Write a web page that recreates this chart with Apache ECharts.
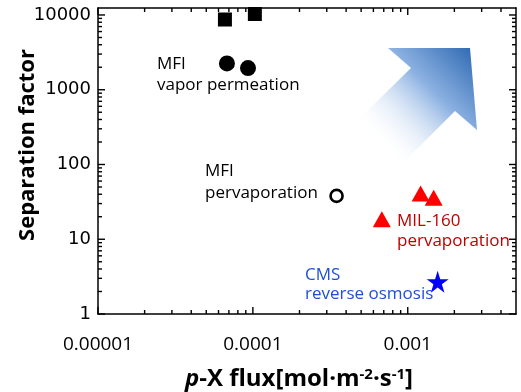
<!DOCTYPE html>
<html>
<head>
<meta charset="utf-8">
<script src="https://cdn.jsdelivr.net/npm/echarts@6/dist/echarts.min.js"></script>
<style>html,body{margin:0;padding:0;background:#fff}#c{width:521px;height:392px}</style>
</head>
<body>
<div id="c"></div>
<script>
// ---- data ----
const xTickLabels = ['0.00001', '0.0001', '0.001'];
const yTickLabels = ['1', '10', '100', '1000', '10000'];
const mfiVaporSquares = [[6.6e-5, 8700], [1.03e-4, 10300]];
const mfiVaporCircles = [[6.8e-5, 2250], [9.3e-5, 1950]];
const mfiPervap = [[3.47e-4, 38]];
const mil160Pervap = [[1.21e-3, 41], [1.47e-3, 36], [6.8e-4, 18.5]];
const cmsRO = [[1.56e-3, 2.7]];

const X_MIN = 1e-5, X_MAX = 5e-3, Y_MIN = 1, Y_MAX = 12400;

// tick positions: majors at powers of ten, minors at 2..9 of each decade
const xMajor = [], xMinor = [], yMajor = [], yMinor = [];
for (let e = -5; e <= -3; e++) for (let m = 1; m <= 9; m++) {
  const v = m * Math.pow(10, e);
  if (v < X_MAX) (m === 1 ? xMajor : xMinor).push(v);
}
for (let e = 0; e <= 4; e++) for (let m = 1; m <= 9; m++) {
  const v = m * Math.pow(10, e);
  if (v < Y_MAX) (m === 1 ? yMajor : yMinor).push(v);
}

const chart = echarts.init(document.getElementById('c'));

function fmt(list) {
  return function (v) {
    for (const s of list) if (Math.abs(Math.log10(v) - Math.log10(parseFloat(s))) < 1e-6) return s;
    return '';
  };
}
function axisLine() { return {show: true, lineStyle: {color: '#000', width: 1.5}}; }

const TW = 1.4;
function tickSeries(data, size, offset) {
  return {type: 'scatter', data: data, symbol: 'rect', symbolSize: size, symbolOffset: offset,
    clip: false, silent: true, z: 3, itemStyle: {color: '#000', opacity: 1},
    emphasis: {disabled: true}};
}

const option = {
  animation: false,
  grid: {left: 98, right: 5, top: 8, bottom: 78},
  xAxis: [
    {type: 'log', min: X_MIN, max: X_MAX, position: 'bottom',
      axisLine: axisLine(), axisTick: {show: false}, splitLine: {show: false},
      axisLabel: {formatter: fmt(xTickLabels), margin: 21, color: '#000',
        fontFamily: 'Open Sans', fontSize: 19}},
    {type: 'log', min: X_MIN, max: X_MAX, position: 'top',
      axisLine: axisLine(), axisTick: {show: false}, splitLine: {show: false}, axisLabel: {show: false}}
  ],
  yAxis: [
    {type: 'log', min: Y_MIN, max: Y_MAX, position: 'left',
      axisLine: axisLine(), axisTick: {show: false}, splitLine: {show: false},
      axisLabel: {formatter: fmt(yTickLabels), margin: 7, color: '#000',
        fontFamily: 'DejaVu Sans', fontSize: 18}},
    {type: 'log', min: Y_MIN, max: Y_MAX, position: 'right',
      axisLine: axisLine(), axisTick: {show: false}, splitLine: {show: false}, axisLabel: {show: false}}
  ],
  series: [
    // tick marks, placed through the axes' own scales
    tickSeries(xMajor.map(v => [v, Y_MIN]), [TW, 7], [0, -3.5]),
    tickSeries(xMajor.map(v => [v, Y_MAX]), [TW, 7], [0, 3.5]),
    tickSeries(xMinor.map(v => [v, Y_MIN]), [TW, 4], [0, -2]),
    tickSeries(xMinor.map(v => [v, Y_MAX]), [TW, 4], [0, 2]),
    tickSeries(yMajor.map(v => [X_MIN, v]), [7, TW], [3.5, 0]),
    tickSeries(yMajor.map(v => [X_MAX, v]), [7, TW], [-3.5, 0]),
    tickSeries(yMinor.map(v => [X_MIN, v]), [4, TW], [2, 0]),
    tickSeries(yMinor.map(v => [X_MAX, v]), [4, TW], [-2, 0]),
    // data
    {type: 'scatter', data: mfiVaporSquares, symbol: 'rect', symbolSize: 14,
      itemStyle: {color: '#000', opacity: 1}},
    {type: 'scatter', data: mfiVaporCircles, symbol: 'circle', symbolSize: 16,
      itemStyle: {color: '#000', opacity: 1}},
    {type: 'scatter', data: mfiPervap, symbol: 'circle', symbolSize: 12,
      itemStyle: {color: '#fff', borderColor: '#000', borderWidth: 2.6, opacity: 1}},
    {type: 'scatter', data: mil160Pervap, symbol: 'triangle', symbolSize: [18, 16],
      itemStyle: {color: '#ff0000', opacity: 1}},
    {type: 'scatter', data: cmsRO, symbol: 'path://M50,0 L61.8,36.2 L100,36.2 L69.1,58.8 L80.9,95.1 L50,72.7 L19.1,95.1 L30.9,58.8 L0,36.2 L38.2,36.2 Z',
      symbolSize: 22, itemStyle: {color: '#0000ff', opacity: 1}}
  ],
  graphic: [
    {type: 'polygon', zlevel: 1,
      shape: {points: [[470, 48], [388, 48], [411, 68], [360, 118], [404, 162], [455, 111], [477, 130]]},
      style: {fill: {type: 'linear', x: 1, y: 0, x2: 0.15, y2: 0.85, colorStops: [
        {offset: 0, color: '#2a66b0'}, {offset: 0.45, color: '#8db2e2'}, {offset: 1, color: 'rgba(255,255,255,0)'}]}}},
    {type: 'text', zlevel: 1, left: 157, top: 54, style: {text: 'MFI\nvapor permeation', fill: '#000',
      font: '17px "Open Sans"', lineHeight: 21}},
    {type: 'text', zlevel: 1, left: 205, top: 160, style: {text: 'MFI\npervaporation', fill: '#000',
      font: '17px "Open Sans"', lineHeight: 22}},
    {type: 'text', zlevel: 1, left: 397, top: 211, style: {text: 'MIL-160\npervaporation', fill: '#c00000',
      font: '17px "Open Sans"', lineHeight: 20}},
    {type: 'text', zlevel: 1, left: 305, top: 266, style: {text: 'CMS\nreverse osmosis', fill: '#1f4fd6',
      font: '17px "Open Sans"', lineHeight: 19}},
    {type: 'text', zlevel: 1, x: 28, y: 145, rotation: Math.PI / 2, style: {text: 'Separation factor',
      fill: '#000', font: 'bold 22px "Open Sans"', align: 'center', verticalAlign: 'middle'}},
    {type: 'text', zlevel: 1, x: 299, y: 379, style: {
      text: '{i|p}{b|-X flux[mol·m}{s|-2}{b|·s}{s|-1}{b|]}', align: 'center', verticalAlign: 'middle',
      rich: {
        i: {font: 'italic bold 24px "Open Sans"', fill: '#000'},
        b: {font: 'bold 24px "Open Sans"', fill: '#000'},
        s: {font: 'bold 15px "Open Sans"', fill: '#000', verticalAlign: 'top', padding: [0, 0, 9, 0]}
      }}}
  ]
};
chart.setOption(option);
</script>
</body>
</html>
